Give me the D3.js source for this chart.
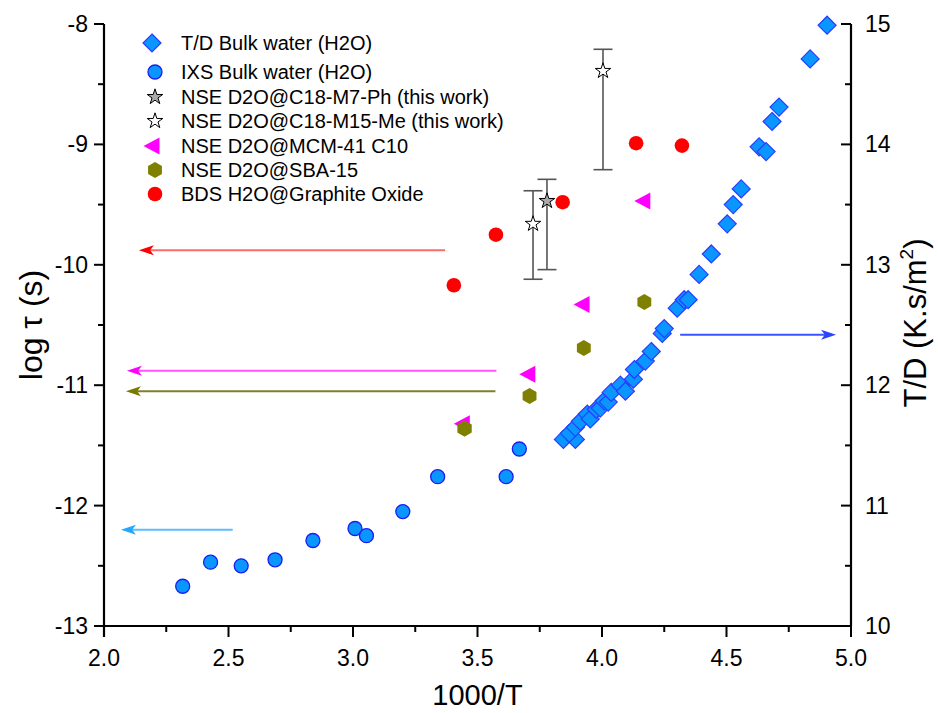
<!DOCTYPE html>
<html>
<head>
<meta charset="utf-8">
<script src="https://cdn.jsdelivr.net/npm/d3@7"></script>
<style>
  html, body { margin: 0; padding: 0; background: #fff; }
  svg { display: block; font-family: "Liberation Sans", Arial, sans-serif; }
</style>
</head>
<body>
<svg id="chart" width="938" height="713"></svg>
<script>
// ---------- DATA ----------
// T/D Bulk water (H2O) – right axis
const tdX = [3.845,3.893,3.869,3.893,3.913,3.941,3.953,3.977,3.993,4.009,4.025,4.037,4.074,4.094,4.126,4.130,4.174,4.198,4.242,4.250,4.302,4.330,4.346,4.390,4.439,4.503,4.527,4.559,4.631,4.659,4.683,4.711,4.836,4.904];
const tdY = [11.55,11.55,11.60,11.65,11.70,11.76,11.72,11.80,11.81,11.87,11.86,11.94,12.00,11.95,12.05,12.13,12.20,12.28,12.43,12.47,12.64,12.71,12.71,12.92,13.09,13.34,13.50,13.63,13.98,13.94,14.19,14.31,14.71,14.99];
// IXS Bulk water (H2O)
const ixsX = [2.316,2.428,2.551,2.687,2.839,3.008,3.054,3.200,3.340,3.615,3.668];
const ixsY = [-12.67,-12.47,-12.50,-12.45,-12.29,-12.19,-12.25,-12.05,-11.76,-11.76,-11.53];
// NSE D2O@C18-M7-Ph (this work)
const m7X = [3.779];
const m7Y = [-9.47];
const m7Hi = [-9.29];
const m7Lo = [-10.04];
// NSE D2O@C18-M15-Me (this work)
const m15X = [3.723, 4.004];
const m15Y = [-9.66, -8.39];
const m15Hi = [-9.385, -8.21];
const m15Lo = [-10.12, -9.21];
// NSE D2O@MCM-41 C10
const mcmX = [3.439, 3.702, 3.920, 4.164];
const mcmY = [-11.32, -10.91, -10.33, -9.47];
// NSE D2O@SBA-15
const sbaX = [3.448, 3.709, 3.927, 4.170];
const sbaY = [-11.36, -11.09, -10.69, -10.31];
// BDS H2O@Graphite Oxide
const bdsX = [3.405, 3.574, 3.842, 4.137, 4.321];
const bdsY = [-10.17, -9.75, -9.48, -8.99, -9.01];

// annotation arrows (data coords)
const arrowFromX = [3.37, 3.576, 3.572, 2.517, 4.314];
const arrowToX   = [2.14, 2.092, 2.088, 2.068, 4.940];
const arrowY     = [-9.88, -10.88, -11.05, -12.20, 12.42];
const arrowAxis  = ["L", "L", "L", "L", "R"];
const arrowLine  = ["#ff6a6a", "#ff55ff", "#7f7f30", "#5cbcff", "#3a55ff"];
const arrowHead  = ["#ff0000", "#ff00ff", "#7a7a00", "#22a8ff", "#2a45ff"];

const legendLabels = ["T/D Bulk water (H2O)","IXS Bulk water (H2O)","NSE D2O@C18-M7-Ph (this work)","NSE D2O@C18-M15-Me (this work)","NSE D2O@MCM-41 C10","NSE D2O@SBA-15","BDS H2O@Graphite Oxide"];

const xTicks = [2.0,2.5,3.0,3.5,4.0,4.5,5.0];
const yLTicks = [-13,-12,-11,-10,-9,-8];
const yRTicks = [10,11,12,13,14,15];

// ---------- LAYOUT ----------
const L = 104, R = 851, T = 24, B = 626;
const svg = d3.select("#chart");
const x = d3.scaleLinear().domain([2,5]).range([L,R]);
const yL = d3.scaleLinear().domain([-13,-8]).range([B,T]);
const yR = d3.scaleLinear().domain([10,15]).range([B,T]);

// ---------- SYMBOL PATHS ----------
const diamondPath = "M0,-9L9,0L0,9L-9,0Z";
const triLeftPath = "M-8.5,0L7.5,-8.5L7.5,8.5Z";
function hexPath(r){ let p=[]; for(let i=0;i<6;i++){const a=Math.PI/6+i*Math.PI/3; p.push([r*Math.cos(a), r*Math.sin(a)]);} return "M"+p.map(d=>d[0].toFixed(2)+","+d[1].toFixed(2)).join("L")+"Z"; }
const hex = hexPath(8);
const star = d3.symbol().type(d3.symbolStar).size(75)();

// ---------- ARROWS ----------
arrowFromX.forEach((fx,i)=>{
  const ys = arrowAxis[i]==="L" ? yL : yR;
  const x0 = x(fx), x1 = x(arrowToX[i]), yy = ys(arrowY[i]);
  const dir = Math.sign(x1-x0);
  const hl = 15, hw = 5;
  svg.append("line").attr("x1",x0).attr("x2",x1 - dir*hl*0.7).attr("y1",yy).attr("y2",yy)
    .attr("stroke",arrowLine[i]).attr("stroke-width",2);
  svg.append("path").attr("d",`M${x1},${yy}L${x1-dir*hl},${yy-hw}L${x1-dir*hl*0.75},${yy}L${x1-dir*hl},${yy+hw}Z`)
    .attr("fill",arrowHead[i]);
});

// ---------- AXES ----------
const fmt1 = d3.format(".1f");
const axB = svg.append("g").attr("transform",`translate(0,${B})`);
axB.append("line").attr("x1",L-10).attr("x2",R).attr("stroke","#000").attr("stroke-width",2.2);
d3.range(2,5.001,0.25).forEach(v=>{
  const major = Math.abs(v*2-Math.round(v*2))<1e-6;
  axB.append("line").attr("x1",x(v)).attr("x2",x(v)).attr("y1",0).attr("y2",major?11:6).attr("stroke","#000").attr("stroke-width",2);
});
axB.selectAll("text.t").data(xTicks).join("text").attr("class","t")
  .attr("x",d=>x(d)).attr("y",40).attr("text-anchor","middle").attr("font-size",23).text(d=>fmt1(d));

const axL = svg.append("g");
axL.append("line").attr("x1",L).attr("x2",L).attr("y1",T).attr("y2",B+11).attr("stroke","#000").attr("stroke-width",2.2);
d3.range(-13,-7.999,0.5).forEach(v=>{
  const major = Math.abs(v-Math.round(v))<1e-6;
  axL.append("line").attr("x1",L-(major?10:6)).attr("x2",L).attr("y1",yL(v)).attr("y2",yL(v)).attr("stroke","#000").attr("stroke-width",2);
});
axL.selectAll("text.t").data(yLTicks).join("text").attr("class","t")
  .attr("x",L-16).attr("y",d=>yL(d)+8).attr("text-anchor","end").attr("font-size",23).text(d=>d);

const axR = svg.append("g");
axR.append("line").attr("x1",R).attr("x2",R).attr("y1",T).attr("y2",B).attr("stroke","#000").attr("stroke-width",2.2);
d3.range(10,15.001,0.5).forEach(v=>{
  const major = Math.abs(v-Math.round(v))<1e-6;
  axR.append("line").attr("x1",R-(major?10:6)).attr("x2",R).attr("y1",yR(v)).attr("y2",yR(v)).attr("stroke","#000").attr("stroke-width",2);
});
axR.selectAll("text.t").data(yRTicks).join("text").attr("class","t")
  .attr("x",R+14).attr("y",d=>yR(d)+8).attr("text-anchor","start").attr("font-size",23).text(d=>d);

// titles
svg.append("text").attr("x",(L+R)/2).attr("y",705).attr("text-anchor","middle").attr("font-size",29).text("1000/T");
svg.append("text").attr("transform",`translate(42,${(T+B)/2}) rotate(-90)`).attr("text-anchor","middle").attr("font-size",32).text("log τ (s)");
const rt = svg.append("text").attr("transform",`translate(926,${(T+B)/2 - 2}) rotate(-90)`).attr("text-anchor","middle").attr("font-size",31);
rt.append("tspan").text("T/D (K.s/m");
rt.append("tspan").attr("font-size",19).attr("dy",-13).text("2");
rt.append("tspan").attr("dy",13).text(")");

// ---------- ERROR BARS ----------
function errBars(xs, hi, lo){
  xs.forEach((xv,i)=>{
    const g = svg.append("g").attr("stroke","#555").attr("stroke-width",1.6);
    g.append("line").attr("x1",x(xv)).attr("x2",x(xv)).attr("y1",yL(hi[i])).attr("y2",yL(lo[i]));
    [hi[i],lo[i]].forEach(v=> g.append("line").attr("x1",x(xv)-9.5).attr("x2",x(xv)+9.5).attr("y1",yL(v)).attr("y2",yL(v)));
  });
}
errBars(m15X, m15Hi, m15Lo);
errBars(m7X, m7Hi, m7Lo);

// ---------- MARKS ----------
svg.append("g").selectAll("circle").data(ixsX).join("circle")
  .attr("cx",d=>x(d)).attr("cy",(d,i)=>yL(ixsY[i])).attr("r",7)
  .attr("fill","#0a96ff").attr("stroke","#1c1cf0").attr("stroke-width",1.3);
svg.append("g").selectAll("path").data(sbaX).join("path")
  .attr("d",hex).attr("transform",(d,i)=>`translate(${x(d)},${yL(sbaY[i])})`).attr("fill","#808000");
svg.append("g").selectAll("path").data(mcmX).join("path")
  .attr("d",triLeftPath).attr("transform",(d,i)=>`translate(${x(d)},${yL(mcmY[i])})`).attr("fill","#ff00ff");
svg.append("g").selectAll("path").data(sbaX.slice(0,1)).join("path")
  .attr("d",hex).attr("transform",(d,i)=>`translate(${x(d)},${yL(sbaY[i])})`).attr("fill","#808000");
svg.append("g").selectAll("circle").data(bdsX).join("circle")
  .attr("cx",d=>x(d)).attr("cy",(d,i)=>yL(bdsY[i])).attr("r",7.3).attr("fill","#ff0000");
svg.append("g").selectAll("path").data(m15X).join("path")
  .attr("d",star).attr("transform",(d,i)=>`translate(${x(d)},${yL(m15Y[i])})`)
  .attr("fill","#fff").attr("stroke","#000").attr("stroke-width",1);
svg.append("g").selectAll("path").data(m7X).join("path")
  .attr("d",star).attr("transform",(d,i)=>`translate(${x(d)},${yL(m7Y[i])})`)
  .attr("fill","#aaaaaa").attr("stroke","#000").attr("stroke-width",1);
svg.append("g").selectAll("path").data(tdX).join("path")
  .attr("d",diamondPath).attr("transform",(d,i)=>`translate(${x(d)},${yR(tdY[i])})`)
  .attr("fill","#0a96ff").attr("stroke","#2a3cff").attr("stroke-width",1.2);

// ---------- LEGEND ----------
const legY = [43, 72, 97, 121, 146, 170, 194];
const leg = svg.append("g");
const legSym = [
  g=>g.append("path").attr("d",diamondPath).attr("fill","#0a96ff").attr("stroke","#2a3cff").attr("stroke-width",1.2).attr("transform","translate(-3,0)"),
  g=>g.append("circle").attr("r",7).attr("fill","#0a96ff").attr("stroke","#1c1cf0").attr("stroke-width",1.3),
  g=>g.append("path").attr("d",star).attr("fill","#aaaaaa").attr("stroke","#000").attr("stroke-width",1),
  g=>g.append("path").attr("d",star).attr("fill","#fff").attr("stroke","#000").attr("stroke-width",1),
  g=>g.append("path").attr("d",triLeftPath).attr("fill","#ff00ff").attr("transform","translate(-3,0)"),
  g=>g.append("path").attr("d",hex).attr("fill","#808000"),
  g=>g.append("circle").attr("r",7.3).attr("fill","#ff0000")
];
legendLabels.forEach((lab,i)=>{
  const g = leg.append("g").attr("transform",`translate(155,${legY[i]})`);
  legSym[i](g);
  leg.append("text").attr("x",181).attr("y",legY[i]+7).attr("font-size",20).text(lab);
});
</script>
</body>
</html>
